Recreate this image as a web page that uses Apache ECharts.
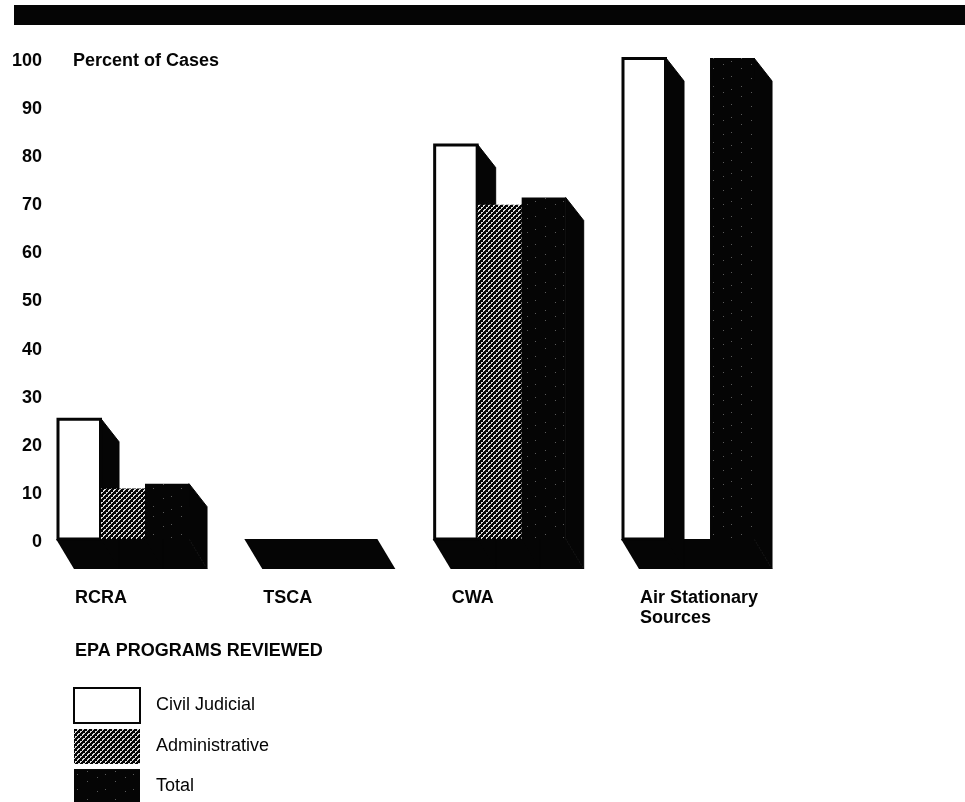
<!DOCTYPE html>
<html>
<head>
<meta charset="utf-8">
<style>html,body{margin:0;padding:0;background:#fff}#chart{width:965px;height:802px}</style>
<script src="https://cdn.jsdelivr.net/npm/echarts@6/dist/echarts.min.js"></script>
</head>
<body>
<div id="chart"></div>
<script>
// Percent of cases per EPA program and enforcement type
const programs = ['RCRA', 'TSCA', 'CWA', 'Air Stationary\nSources'];
const civilJudicial = [25, 0, 82, 100];
const administrative = [10.5, 0, 69.5, 0];
const total = [11.5, 0, 71, 100];
const valueTicks = [0, 10, 20, 30, 40, 50, 60, 70, 80, 90, 100];

const INK = '#050505';

// Repeating print-screen textures for the shaded bars
function tile(size, paint) {
  const c = document.createElement('canvas');
  c.width = c.height = size;
  const g = c.getContext('2d');
  g.fillStyle = INK;
  g.fillRect(0, 0, size, size);
  paint(g, size);
  return { image: c, repeat: 'repeat' };
}
const hatch = tile(5, (g) => {
  g.fillStyle = '#dcdcdc';
  [[4, 0], [3, 1], [2, 2], [1, 3], [0, 4], [3, 0], [1, 2], [4, 4]].forEach(([x, y]) => g.fillRect(x, y, 1, 1));
});
const speckle = tile(28, (g) => {
  g.fillStyle = '#5a5a5a';
  [[3, 5], [13, 2], [13, 12], [23, 8], [3, 20], [23, 22]].forEach(([x, y]) => g.fillRect(x, y, 1, 1));
});

const WIDTH_RATIO = 44 / 188.3;
const LEAD_RATIO = 18 / 188.3;
const SIDE_RATIO = 18 / 188.3;
const SIDE_DROP = 23;
const FLOOR_DROP = 30;

// One extruded bar: slanted black side face plus the front rectangle
function barRenderer(slot, fill, outlined) {
  return function (params, api) {
    const step = api.size([1, 0])[0];
    const w = step * WIDTH_RATIO;
    const base = api.coord([api.value(0), 0]);
    const top = api.coord([api.value(0), api.value(1)]);
    const x0 = base[0] - step * LEAD_RATIO + slot * w;
    const x1 = x0 + w;
    const side = step * SIDE_RATIO;
    if (api.value(1) <= 0) {
      return { type: 'group', children: [] };
    }
    return {
      type: 'group',
      children: [
        {
          type: 'polygon',
          shape: { points: [[x1, top[1]], [x1 + side, top[1] + SIDE_DROP], [x1 + side, base[1] + FLOOR_DROP], [x1, base[1]]] },
          style: { fill: INK, stroke: INK, lineWidth: 1 }
        },
        {
          type: 'rect',
          shape: { x: x0 + (outlined ? 1 : 0), y: top[1] + (outlined ? 0.5 : 0), width: w - (outlined ? 1.5 : 0), height: base[1] - top[1] - (outlined ? 0.5 : 0) },
          style: outlined ? { fill: '#fff', stroke: INK, lineWidth: 3 } : { fill: fill }
        }
      ]
    };
  };
}

// Black ground slab under each group of three bars
function floorRenderer(params, api) {
  const step = api.size([1, 0])[0];
  const w = step * WIDTH_RATIO;
  const base = api.coord([api.value(0), 0]);
  const x0 = base[0] - step * LEAD_RATIO;
  const x3 = x0 + 3 * w;
  const side = step * SIDE_RATIO;
  return {
    type: 'polygon',
    shape: { points: [[x0 - 1, base[1]], [x0 + side - 1, base[1] + FLOOR_DROP], [x3 + side, base[1] + FLOOR_DROP], [x3, base[1]]] },
    style: { fill: INK }
  };
}

const asPoints = (values) => values.map((v, i) => [i, v]);
const customBase = { type: 'custom', coordinateSystem: 'cartesian2d', encode: { x: 0, y: 1 }, clip: false, silent: true };
const FONT = '"Liberation Sans", Arial, sans-serif';

const chart = echarts.init(document.getElementById('chart'), null, { renderer: 'canvas' });
chart.setOption({
  animation: false,
  backgroundColor: '#fff',
  textStyle: { fontFamily: FONT, color: INK },
  title: [
    { text: 'Percent of Cases', left: 73, top: 52, padding: 0, textStyle: { fontFamily: FONT, fontSize: 18, fontWeight: 'bold', color: INK } },
    { text: 'EPA PROGRAMS REVIEWED', left: 75, top: 642, padding: 0, textStyle: { fontFamily: FONT, fontSize: 18, fontWeight: 'bold', color: INK } }
  ],
  grid: { left: 75, right: 325, top: 58, bottom: 263, containLabel: false },
  xAxis: {
    type: 'category',
    data: programs,
    boundaryGap: false,
    axisLine: { show: false },
    axisTick: { show: false },
    splitLine: { show: false },
    axisLabel: {
      interval: 0,
      align: 'left',
      verticalAlign: 'top',
      margin: 49,
      lineHeight: 20,
      fontFamily: FONT,
      fontSize: 18,
      fontWeight: 'bold',
      color: INK,
      hideOverlap: false
    }
  },
  yAxis: {
    type: 'value',
    min: valueTicks[0],
    max: valueTicks[valueTicks.length - 1],
    interval: 10,
    axisLine: { show: false },
    axisTick: { show: false },
    splitLine: { show: false },
    axisLabel: {
      margin: 33,
      verticalAlign: 'top',
      lineHeight: 6,
      fontFamily: FONT,
      fontSize: 18,
      fontWeight: 'bold',
      color: INK
    }
  },
  legend: {
    orient: 'vertical',
    left: 73,
    top: 687,
    height: 130,
    padding: 0,
    itemWidth: 66,
    itemHeight: 35,
    itemGap: 5,
    icon: 'rect',
    selectedMode: false,
    textStyle: { fontFamily: FONT, fontSize: 18, color: INK, padding: [0, 0, 0, 11] },
    data: [
      { name: 'Civil Judicial', itemStyle: { color: '#fff', borderColor: INK, borderWidth: 2 } },
      { name: 'Administrative', itemStyle: { color: hatch, borderWidth: 0 } },
      { name: 'Total', itemStyle: { color: speckle, borderWidth: 0 } }
    ]
  },
  series: [
    Object.assign({}, customBase, { name: 'floor', data: asPoints(programs.map(() => 0)), renderItem: floorRenderer, z: 1 }),
    Object.assign({}, customBase, { name: 'Civil Judicial', data: asPoints(civilJudicial), renderItem: barRenderer(0, '#fff', true), z: 2, itemStyle: { color: '#fff' } }),
    Object.assign({}, customBase, { name: 'Administrative', data: asPoints(administrative), renderItem: barRenderer(1, hatch, false), z: 3, itemStyle: { color: hatch } }),
    Object.assign({}, customBase, { name: 'Total', data: asPoints(total), renderItem: barRenderer(2, speckle, false), z: 4, itemStyle: { color: speckle } })
  ],
  graphic: [
    { type: 'rect', left: 14, top: 5, shape: { width: 951, height: 20 }, style: { fill: INK }, silent: true }
  ]
});
</script>
</body>
</html>
